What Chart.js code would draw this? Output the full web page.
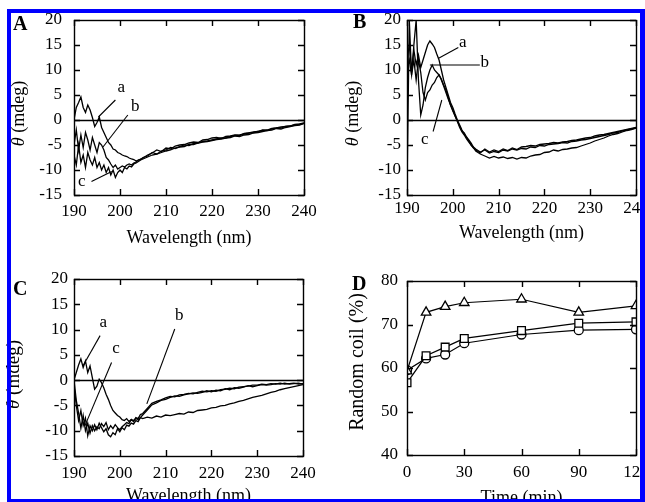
<!DOCTYPE html>
<html>
<head>
<meta charset="utf-8">
<script src="https://cdn.jsdelivr.net/npm/chart.js@4/dist/chart.umd.min.js"></script>
<style>
  body { margin: 0; background: #fff; }
  #stage { position: relative; width: 645px; height: 502px; overflow: hidden; background: #fff; }
  #stage canvas { position: absolute; }
  #frame {
    position: absolute; left: 7px; top: 9px; width: 638px; height: 493px; box-sizing: border-box;
    border-style: solid; border-color: #0000ff; border-width: 4px 5px 3px 4px;
    pointer-events: none; z-index: 5;
  }
</style>
</head>
<body>
<div id="stage">
  <canvas id="panelA"></canvas>
  <canvas id="panelB"></canvas>
  <canvas id="panelC"></canvas>
  <canvas id="panelD"></canvas>
  <div id="frame"></div>
</div>
<script>
// longueurs d'onde communes aux spectres A, B, C (nm)
const wavelengths = [
  190, 190.5, 191, 191.5, 192, 192.5, 193, 193.5, 194, 194.5,
  195, 195.5, 196, 196.5, 197, 197.5, 198, 198.5, 199, 199.5,
  200, 200.5, 201, 201.5, 202, 202.5, 203, 203.5, 204, 204.5,
  205, 206, 207, 208, 209, 210, 211, 212, 213, 214,
  215, 216, 217, 218, 219, 220, 221, 222, 223, 224,
  225, 226, 227, 228, 229, 230, 231, 232, 233, 234,
  235, 236, 237, 238, 239, 240
];

// Panel A (mdeg)
const specAa = [
  0, 2.5, 3.5, 4.6, 2.5, 1.5, 3.0, 2.0, 0.5, -1.3,
  -0.5, 0.6, -1.5, -2.5, -3.5, -4.5, -5.0, -5.8, -6.0, -6.5,
  -6.7, -7.0, -7.2, -7.3, -7.6, -7.8, -7.9, -8.2, -8.0, -7.8,
  -7.6, -7.0, -6.6, -6.0, -6.3, -5.6, -5.8, -5.2, -5.0, -4.9,
  -4.6, -4.4, -4.5, -4.0, -3.9, -3.6, -3.5, -3.7, -3.3, -3.2,
  -3.0, -3.1, -2.7, -2.6, -2.4, -2.3, -2.0, -2.1, -1.8, -1.6,
  -1.6, -1.3, -1.2, -1.0, -0.9, -0.6
];
const specAb = [
  -5.0, -2.0, -6.0, -3.0, -5.5, -2.5, -4.0, -6.0, -3.5, -5.0,
  -6.5, -4.5, -5.0, -6.0, -7.5, -8.0, -8.8, -9.5, -9.0, -9.8,
  -9.5, -9.2, -9.4, -9.0, -8.8, -9.0, -8.6, -8.4, -8.0, -7.9,
  -7.5, -7.2, -6.5, -6.8, -6.2, -6.0, -5.5, -5.7, -5.3, -5.0,
  -5.1, -4.7, -4.6, -4.4, -4.3, -4.1, -3.9, -3.8, -3.6, -3.5,
  -3.2, -3.3, -3.0, -2.9, -2.6, -2.5, -2.3, -2.1, -2.0, -1.7,
  -1.8, -1.5, -1.3, -1.1, -1.0, -0.7
];
const specAc = [
  -7.0, -9.0, -5.0, -8.5, -7.0, -9.5, -6.5, -8.0, -9.0, -7.5,
  -9.5, -8.5, -10.0, -9.0, -10.5, -9.5, -11.0, -10.0, -11.5, -10.5,
  -10.0, -10.5, -9.5, -9.8, -9.2, -9.4, -8.8, -8.6, -8.3, -8.0,
  -7.8, -7.4, -7.0, -6.8, -6.5, -6.2, -6.0, -5.6, -5.4, -5.3,
  -4.9, -4.9, -4.6, -4.3, -4.2, -4.0, -3.8, -3.6, -3.6, -3.3,
  -3.1, -3.0, -2.8, -2.6, -2.5, -2.3, -2.1, -2.0, -1.7, -1.6,
  -1.4, -1.3, -1.2, -0.9, -0.8, -0.6
];

// Panel B (mdeg)
const specBa = [
  12, 15, 10, 14, 11, 13, 10.5, 12, 13.5, 15,
  15.8, 15.2, 14.5, 13.2, 12, 10, 8, 6.5, 5, 3.5,
  2.5, 1.2, 0, -1, -2, -2.8, -3.5, -4.2, -5, -5.5,
  -6.2, -6.8, -7.2, -7.6, -7.3, -7.6, -7.4, -7.7, -7.5, -7.8,
  -7.5, -7.6, -7.2, -7.0, -6.9, -6.5, -6.4, -6.0, -6.2, -5.9,
  -5.8, -5.6, -5.5, -5.2, -4.9, -4.6, -4.2, -3.9, -3.6, -3.2,
  -2.9, -2.7, -2.4, -2.1, -1.9, -1.6
];
const specBb = [
  10, 12, 9, 15, 20, 8, 1, 3, 6.5, 8.5,
  10, 11, 10, 9.5, 9, 8.2, 7, 6, 4.5, 3,
  2, 0.8, -0.2, -1.2, -2.2, -2.6, -3.4, -4, -4.6, -5.4,
  -5.8, -6.4, -6.0, -6.6, -6.3, -6.5, -6.0, -6.2, -5.8, -6.0,
  -5.7, -5.8, -5.4, -5.5, -5.1, -5.2, -4.9, -4.8, -4.7, -4.5,
  -4.6, -4.3, -4.2, -4.0, -3.9, -3.7, -3.5, -3.3, -3.1, -2.9,
  -2.6, -2.5, -2.2, -2.0, -1.8, -1.6
];
const specBc = [
  -14, 20, 9, 12, 8, 12, 9.5, 5.5, 4, 5.5,
  6, 7, 7.5, 8.5, 9, 8, 6.8, 5.5, 4.2, 3,
  1.8, 0.8, -0.3, -1.5, -2.4, -3, -3.8, -4.4, -5, -5.6,
  -6, -6.6, -5.8, -6.4, -6.0, -6.3, -5.8, -6.1, -5.6, -5.9,
  -5.4, -5.3, -5.1, -5.2, -4.9, -4.8, -4.7, -4.5, -4.6, -4.4,
  -4.3, -4.1, -4.0, -3.8, -3.6, -3.5, -3.2, -3.0, -2.9, -2.7,
  -2.5, -2.3, -2.1, -1.9, -1.7, -1.5
];

// Panel C (mdeg)
const specCa = [
  0, 1.5, 3, 4.2, 2.5, 3.8, 1.5, 2.8, 0.5, -1.8,
  -1.2, 0.2, -0.5, -1.5, -2.8, -3.8, -5, -6, -6.5, -7,
  -7.3, -7.8, -8, -7.6, -8.2, -7.8, -8.0, -7.6, -7.8, -7.4,
  -7.6, -7.3, -7.5, -7.1, -7.3, -6.9, -7.0, -6.8, -6.6, -6.7,
  -6.3, -6.4, -6.0, -5.9, -5.8, -5.5, -5.4, -5.1, -5.0, -4.7,
  -4.5, -4.2, -4.0, -3.7, -3.4, -3.2, -3.0, -2.7, -2.4, -2.2,
  -1.9, -1.7, -1.5, -1.3, -1.1, -0.9
];
const specCb = [
  0, -4, -6.5, -9.5, -7, -10, -8.5, -10.5, -9, -10,
  -9.2, -9.6, -8.6, -9.2, -8.4, -9.8, -9, -9.6, -8.8, -9.4,
  -9.8, -9.2, -8.8, -8.4, -8.6, -7.8, -8.2, -7.4, -7.6, -6.8,
  -6.6, -5.6, -4.6, -4.2, -3.9, -3.5, -3.2, -3.3, -2.9, -2.8,
  -2.6, -2.7, -2.4, -2.2, -2.3, -2.1, -2.2, -1.9, -1.8, -1.6,
  -1.7, -1.4, -1.3, -1.2, -1.0, -1.0, -0.8, -0.9, -0.7, -0.8,
  -0.6, -0.8, -0.7, -0.6, -0.8, -0.7
];
const specCc = [
  -1, -5, -8, -6, -9, -7.5, -11, -9, -10, -8.8,
  -9.8, -8.5, -9.4, -10.2, -9.6, -10.8, -11.2, -10.4, -10.8, -9.6,
  -10.2, -9.4, -9.8, -8.9, -9.1, -8.5, -8.7, -8.0, -8.2, -7.4,
  -6.9, -5.9, -4.9, -4.5, -4.0, -3.8, -3.4, -3.1, -3.2, -2.9,
  -2.7, -2.5, -2.6, -2.4, -2.1, -2.3, -2.0, -2.1, -1.7, -1.9,
  -1.5, -1.6, -1.4, -1.1, -1.3, -1.1, -0.9, -1.0, -0.9, -0.7,
  -0.8, -0.6, -0.8, -0.7, -0.6, -0.8
];

// Panel D : random coil (%) vs temps (min)
const timeMin = [0, 10, 20, 30, 60, 90, 120];
const coilTriangle = [59.3, 72.8, 74.1, 75.0, 75.8, 72.8, 74.3];
const coilSquare = [56.6, 62.8, 64.8, 66.8, 68.6, 70.3, 70.6];
const coilCircle = [59.5, 62.2, 63.1, 65.7, 67.7, 68.7, 68.9];

// ticks
const wlTicks = [190, 200, 210, 220, 230, 240];
const cdTicks = [-15, -10, -5, 0, 5, 10, 15, 20];
const timeTicks = [0, 30, 60, 90, 120];
const coilTicks = [40, 50, 60, 70, 80];

const FONT = '"Liberation Serif", "Times New Roman", serif';
const M = { left: 80, top: 30, right: 30, bottom: 70 };

function pairs(xs, ys) {
    return xs.map((x, i) => ({ x, y: ys[i] }));
}

function drawYTitle(ctx, parts, cx, cy, size) {
    ctx.save();
    ctx.translate(cx, cy);
    ctx.rotate(-Math.PI / 2);
    ctx.textAlign = 'left';
    ctx.textBaseline = 'middle';
    const widths = parts.map(p => {
        ctx.font = (p.italic ? 'italic ' : '') + size + 'px ' + FONT;
        return ctx.measureText(p.text).width;
    });
    let pos = -widths.reduce((s, w) => s + w, 0) / 2;
    parts.forEach((p, i) => {
        ctx.font = (p.italic ? 'italic ' : '') + size + 'px ' + FONT;
        ctx.fillText(p.text, pos, 0);
        pos += widths[i];
    });
    ctx.restore();
}

// cadre, ticks intérieurs, ligne zéro, étiquettes a/b/c, titres
function makeDecor(p) {
    return {
        id: 'decor',
        beforeDatasetsDraw(chart) {
            if (!p.zeroLine) return;
            const { ctx, chartArea: a, scales: { y } } = chart;
            const py = Math.round(y.getPixelForValue(0)) + 0.5;
            ctx.save();
            ctx.strokeStyle = '#000';
            ctx.lineWidth = 1.3;
            ctx.beginPath();
            ctx.moveTo(a.left, py);
            ctx.lineTo(a.right, py);
            ctx.stroke();
            ctx.restore();
        },
        afterDatasetsDraw(chart) {
            const { ctx, chartArea: a, scales: { x, y } } = chart;
            ctx.save();
            ctx.strokeStyle = '#000';
            ctx.fillStyle = '#000';
            ctx.lineWidth = 1.4;
            ctx.beginPath();
            x.ticks.forEach(t => {
                const px = Math.round(x.getPixelForValue(t.value)) + 0.5;
                ctx.moveTo(px, a.bottom); ctx.lineTo(px, a.bottom - 6);
                ctx.moveTo(px, a.top); ctx.lineTo(px, a.top + 6);
            });
            y.ticks.forEach(t => {
                const py = Math.round(y.getPixelForValue(t.value)) + 0.5;
                ctx.moveTo(a.left, py); ctx.lineTo(a.left + 6, py);
                ctx.moveTo(a.right, py); ctx.lineTo(a.right - 6, py);
            });
            ctx.stroke();
            ctx.strokeRect(Math.round(a.left) + 0.5, Math.round(a.top) + 0.5,
                Math.round(a.right - a.left), Math.round(a.bottom - a.top));

            // étiquettes des courbes
            ctx.lineWidth = 1.1;
            ctx.font = '17px ' + FONT;
            ctx.textAlign = 'center';
            ctx.textBaseline = 'middle';
            (p.notes || []).forEach(n => {
                ctx.beginPath();
                ctx.moveTo(x.getPixelForValue(n.from[0]), y.getPixelForValue(n.from[1]));
                ctx.lineTo(x.getPixelForValue(n.to[0]), y.getPixelForValue(n.to[1]));
                ctx.stroke();
                ctx.fillText(n.text, x.getPixelForValue(n.at[0]), y.getPixelForValue(n.at[1]));
            });

            // titre x
            ctx.font = '18px ' + FONT;
            ctx.fillText(p.xTitle, (a.left + a.right) / 2, a.bottom + p.xTitleGap);
            // titre y
            drawYTitle(ctx, p.yTitle, a.left - p.yTitleGap, (a.top + a.bottom) / 2 + p.yTitleShift, p.yTitleSize);
            // lettre du panneau
            ctx.font = 'bold 20px ' + FONT;
            ctx.textAlign = 'left';
            ctx.textBaseline = 'alphabetic';
            ctx.fillText(p.letter, a.left + p.letterAt[0], a.top + p.letterAt[1]);
            ctx.restore();
        }
    };
}

function lineSet(data, extra) {
    return Object.assign({
        data,
        borderColor: '#000',
        borderWidth: 1.3,
        pointRadius: 0,
        tension: 0,
        fill: false
    }, extra || {});
}

function makePanel(p) {
    const canvas = document.getElementById(p.id);
    canvas.width = p.plot.w + M.left + M.right;
    canvas.height = p.plot.h + M.top + M.bottom;
    canvas.style.left = (p.plot.left - M.left) + 'px';
    canvas.style.top = (p.plot.top - M.top) + 'px';

    const tickFont = { family: FONT, size: 17 };
    return new Chart(canvas.getContext('2d'), {
        type: 'line',
        data: { datasets: p.datasets },
        plugins: [makeDecor(p)],
        options: {
            responsive: false,
            animation: false,
            devicePixelRatio: 1,
            layout: { padding: { left: 0, top: M.top, right: M.right, bottom: 0 } },
            plugins: { legend: { display: false }, tooltip: { enabled: false } },
            scales: {
                x: {
                    type: 'linear',
                    min: p.xRange[0], max: p.xRange[1],
                    grid: { display: false, drawTicks: false },
                    border: { display: false },
                    afterBuildTicks: s => { s.ticks = p.xTicks.map(v => ({ value: v })); },
                    afterFit: s => { s.height = M.bottom; },
                    ticks: { font: tickFont, color: '#000', padding: p.xTickPad, autoSkip: false, maxRotation: 0 }
                },
                y: {
                    min: p.yRange[0], max: p.yRange[1],
                    grid: { display: false, drawTicks: false },
                    border: { display: false },
                    afterBuildTicks: s => { s.ticks = p.yTicks.map(v => ({ value: v })); },
                    afterFit: s => { s.width = M.left; },
                    ticks: { font: tickFont, color: '#000', padding: p.yTickPad }
                }
            }
        }
    });
}

const thetaTitle = [{ text: 'θ', italic: true }, { text: ' (mdeg)' }];

makePanel({
    id: 'panelA', letter: 'A', letterAt: [-61, 10],
    plot: { left: 74, top: 20, w: 230, h: 175 },
    xRange: [190, 240], yRange: [-15, 20], xTicks: wlTicks, yTicks: cdTicks,
    xTickPad: 6, yTickPad: 12, zeroLine: true,
    xTitle: 'Wavelength (nm)', xTitleGap: 43,
    yTitle: thetaTitle, yTitleGap: 55, yTitleShift: 6, yTitleSize: 18,
    datasets: [lineSet(pairs(wavelengths, specAa)), lineSet(pairs(wavelengths, specAb)), lineSet(pairs(wavelengths, specAc))],
    notes: [
        { text: 'a', at: [200.3, 6.4], from: [199, 4], to: [195.3, 0.6] },
        { text: 'b', at: [203.3, 2.6], from: [201.7, 1], to: [196.3, -5.4] },
        { text: 'c', at: [191.7, -12.4], from: [193.8, -12.3], to: [198.2, -10.3] }
    ]
});

makePanel({
    id: 'panelB', letter: 'B', letterAt: [-54, 8],
    plot: { left: 407, top: 20, w: 229, h: 175 },
    xRange: [190, 240], yRange: [-15, 20], xTicks: wlTicks, yTicks: cdTicks,
    xTickPad: 3, yTickPad: 6, zeroLine: true,
    xTitle: 'Wavelength (nm)', xTitleGap: 38,
    yTitle: thetaTitle, yTitleGap: 54, yTitleShift: 6, yTitleSize: 18,
    datasets: [lineSet(pairs(wavelengths, specBa)), lineSet(pairs(wavelengths, specBb)), lineSet(pairs(wavelengths, specBc))],
    notes: [
        { text: 'a', at: [202.2, 15.4], from: [201.2, 14.5], to: [196.8, 12.3] },
        { text: 'b', at: [207, 11.4], from: [205.9, 11], to: [195, 11] },
        { text: 'c', at: [193.9, -4], from: [195.7, -2.3], to: [197.6, 4] }
    ]
});

makePanel({
    id: 'panelC', letter: 'C', letterAt: [-61, 16],
    plot: { left: 74, top: 279, w: 229, h: 177 },
    xRange: [190, 240], yRange: [-15, 20], xTicks: wlTicks, yTicks: cdTicks,
    xTickPad: 7, yTickPad: 6, zeroLine: true,
    xTitle: 'Wavelength (nm)', xTitleGap: 40,
    yTitle: thetaTitle, yTitleGap: 60, yTitleShift: 7, yTitleSize: 19,
    datasets: [lineSet(pairs(wavelengths, specCa)), lineSet(pairs(wavelengths, specCb)), lineSet(pairs(wavelengths, specCc))],
    notes: [
        { text: 'a', at: [196.4, 11.4], from: [195.7, 8.8], to: [192, 2.9] },
        { text: 'c', at: [199.2, 6.2], from: [198.2, 3.5], to: [192.4, -9] },
        { text: 'b', at: [213, 12.7], from: [212, 10.1], to: [205.9, -4.7] }
    ]
});

const markerStyle = { borderColor: '#000', borderWidth: 1.2, backgroundColor: '#fff', pointBackgroundColor: '#fff', pointBorderColor: '#000', pointBorderWidth: 1.3 };

makePanel({
    id: 'panelD', letter: 'D', letterAt: [-55, 9],
    plot: { left: 407, top: 281, w: 229, h: 174 },
    xRange: [0, 120], yRange: [40, 80], xTicks: timeTicks, yTicks: coilTicks,
    xTickPad: 7, yTickPad: 9, zeroLine: false,
    xTitle: 'Time (min)', xTitleGap: 43,
    yTitle: [{ text: 'Random coil (%)' }], yTitleGap: 49, yTitleShift: -6, yTitleSize: 20,
    datasets: [
        lineSet(pairs(timeMin, coilTriangle), Object.assign({ pointStyle: 'triangle', pointRadius: 5.5 }, markerStyle)),
        lineSet(pairs(timeMin, coilSquare), Object.assign({ pointStyle: 'rect', pointRadius: 5.5 }, markerStyle)),
        lineSet(pairs(timeMin, coilCircle), Object.assign({ pointStyle: 'circle', pointRadius: 4.5 }, markerStyle))
    ],
    notes: []
});
</script>
</body>
</html>
